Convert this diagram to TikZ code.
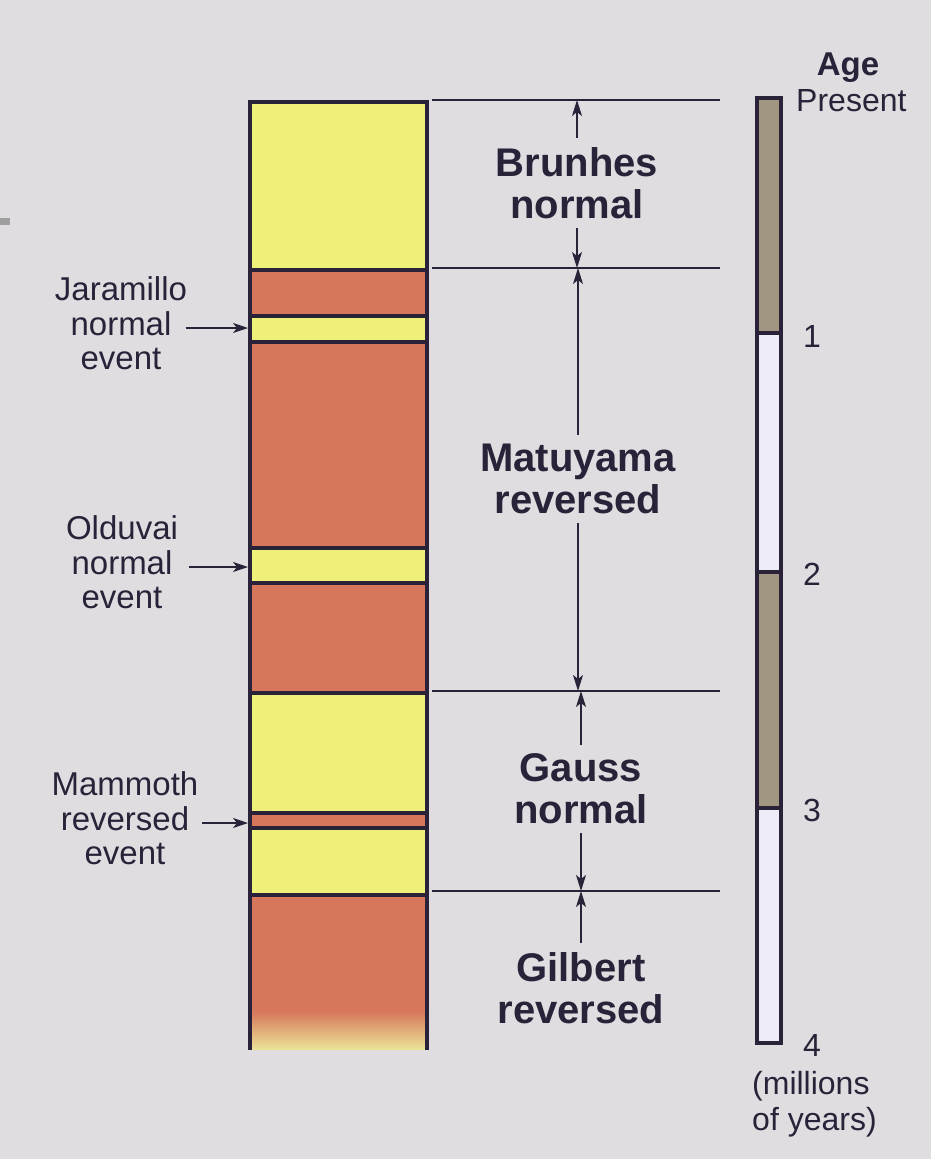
\documentclass[tikz,border=0pt]{standalone}
\usepackage{fontspec}
\setmainfont{Liberation Sans}
\usetikzlibrary{positioning, arrows.meta}
\definecolor{paper}{RGB}{224,221,225}
\definecolor{ink}{RGB}{42,34,56}
\definecolor{yel}{RGB}{238,240,122}
\definecolor{rust}{RGB}{214,118,90}
\definecolor{fadepink}{RGB}{226,140,140}
\definecolor{fadeyel}{RGB}{236,226,150}
\definecolor{agegray}{RGB}{160,150,130}
\definecolor{agewhite}{RGB}{238,236,246}
\tikzset{
  evt/.style={font=\fontsize{33}{34}\selectfont, text=ink, inner sep=0pt, text height=24pt, text depth=10pt},
  era/.style={font=\bfseries\fontsize{40}{42}\selectfont, text=ink, align=center, inner sep=9pt},
  tick/.style={font=\fontsize{32}{34}\selectfont, text=ink, inner sep=0pt},
  dim/.style={draw=ink, line width=1.4pt, -{Stealth[length=16pt,width=10pt,inset=4pt]}},
  pointer/.style={draw=ink, line width=1.6pt, -{Stealth[length=15pt,width=10pt,inset=4pt]}},
  bound/.style={draw=ink, line width=2.4pt},
  rim/.style={draw=ink, line width=3.5pt},
}

\begin{document}
\begin{tikzpicture}[x=1pt, y=-1pt]
\useasboundingbox[fill=paper] (0,0) rectangle (931,1159);
% edge of the page
\fill[gray!75] (0,218) rectangle (10,225);

% polarity column
\foreach \ya/\yb/\c in {102/270/yel, 270/316/rust, 316/342/yel, 342/548/rust, 548/583/yel, 583/693/rust, 693/813/yel, 813/828/rust, 828/895/yel, 895/1012/rust}
  \fill[\c] (250,\ya) rectangle (427,\yb);
\shade[top color=rust, middle color=fadepink, bottom color=fadeyel] (250,1011) rectangle (427,1049);
\foreach \y in {270,316,342,548,583,693,813,828,895}
  \draw[rim] (250,\y) -- (427,\y);
\draw[rim, line join=miter] (250,1050) -- (250,102) -- (427,102) -- (427,1050);
\coordinate (colL) at (248,0);

% chron boundaries
\foreach \y/\n in {100/t0, 268/t1, 691/t2, 891/t3}
  \draw[bound] (432,\y) -- (720,\y) coordinate[pos=0.5] (\n);

% chrons
\node[era] (brunhes) at (577,183) {Brunhes\\normal};
\node[era] (matuyama) at (578,479) {Matuyama\\reversed};
\node[era] (gauss) at (581,789) {Gauss\\normal};
\node[era] (gilbert) at (581,988) {Gilbert\\reversed};
\draw[dim] (brunhes.north) -- (brunhes.north |- t0);
\draw[dim] (brunhes.south) -- (brunhes.south |- t1);
\draw[dim] (matuyama.north) -- (matuyama.north |- t1);
\draw[dim] (matuyama.south) -- (matuyama.south |- t2);
\draw[dim] (gauss.north) -- (gauss.north |- t2);
\draw[dim] (gauss.south) -- (gauss.south |- t3);
\draw[dim] (gilbert.north) -- (gilbert.north |- t3);

% events
\node[evt] (jar2) at (121,328) {normal};
\node[evt, above=0pt of jar2] (jar1) {Jaramillo};
\node[evt, below=0pt of jar2] (jar3) {event};
\draw[pointer] ([xshift=14pt]jar2.east) -- (jar2.east -| colL);

\node[evt] (old2) at (122,567) {normal};
\node[evt, above=0pt of old2] (old1) {Olduvai};
\node[evt, below=0pt of old2] (old3) {event};
\draw[pointer] ([xshift=16pt]old2.east) -- (old2.east -| colL);

\node[evt] (mam2) at (125,823) {reversed};
\node[evt, above=0pt of mam2] (mam1) {Mammoth};
\node[evt, below=0pt of mam2] (mam3) {event};
\draw[pointer] ([xshift=13pt]mam2.east) -- (mam2.east -| colL);

% age scale
\fill[agegray] (757,98) rectangle (781,333);
\fill[agewhite] (757,333) rectangle (781,572);
\fill[agegray] (757,572) rectangle (781,808);
\fill[agewhite] (757,808) rectangle (781,1043);
\foreach \y in {333,572,808}
  \draw[rim] (757,\y) -- (781,\y);
\draw[rim] (757,98) rectangle (781,1043);

\node[tick, font=\bfseries\fontsize{33}{34}\selectfont, anchor=base] (age) at (848,75) {Age};
\node[tick, anchor=west] (present) at (796,101) {Present};
\node[tick, anchor=west] (one) at (803,336) {1};
\node[tick, anchor=west] (two) at (803,574) {2};
\node[tick, anchor=west] (three) at (803,810) {3};
\node[tick, anchor=west] (four) at (803,1045) {4};
\node[tick, anchor=base west] (mill) at (752,1094) {(millions};
\node[tick, anchor=base west] (years) at (752,1130) {of years)};
\end{tikzpicture}
\end{document}
